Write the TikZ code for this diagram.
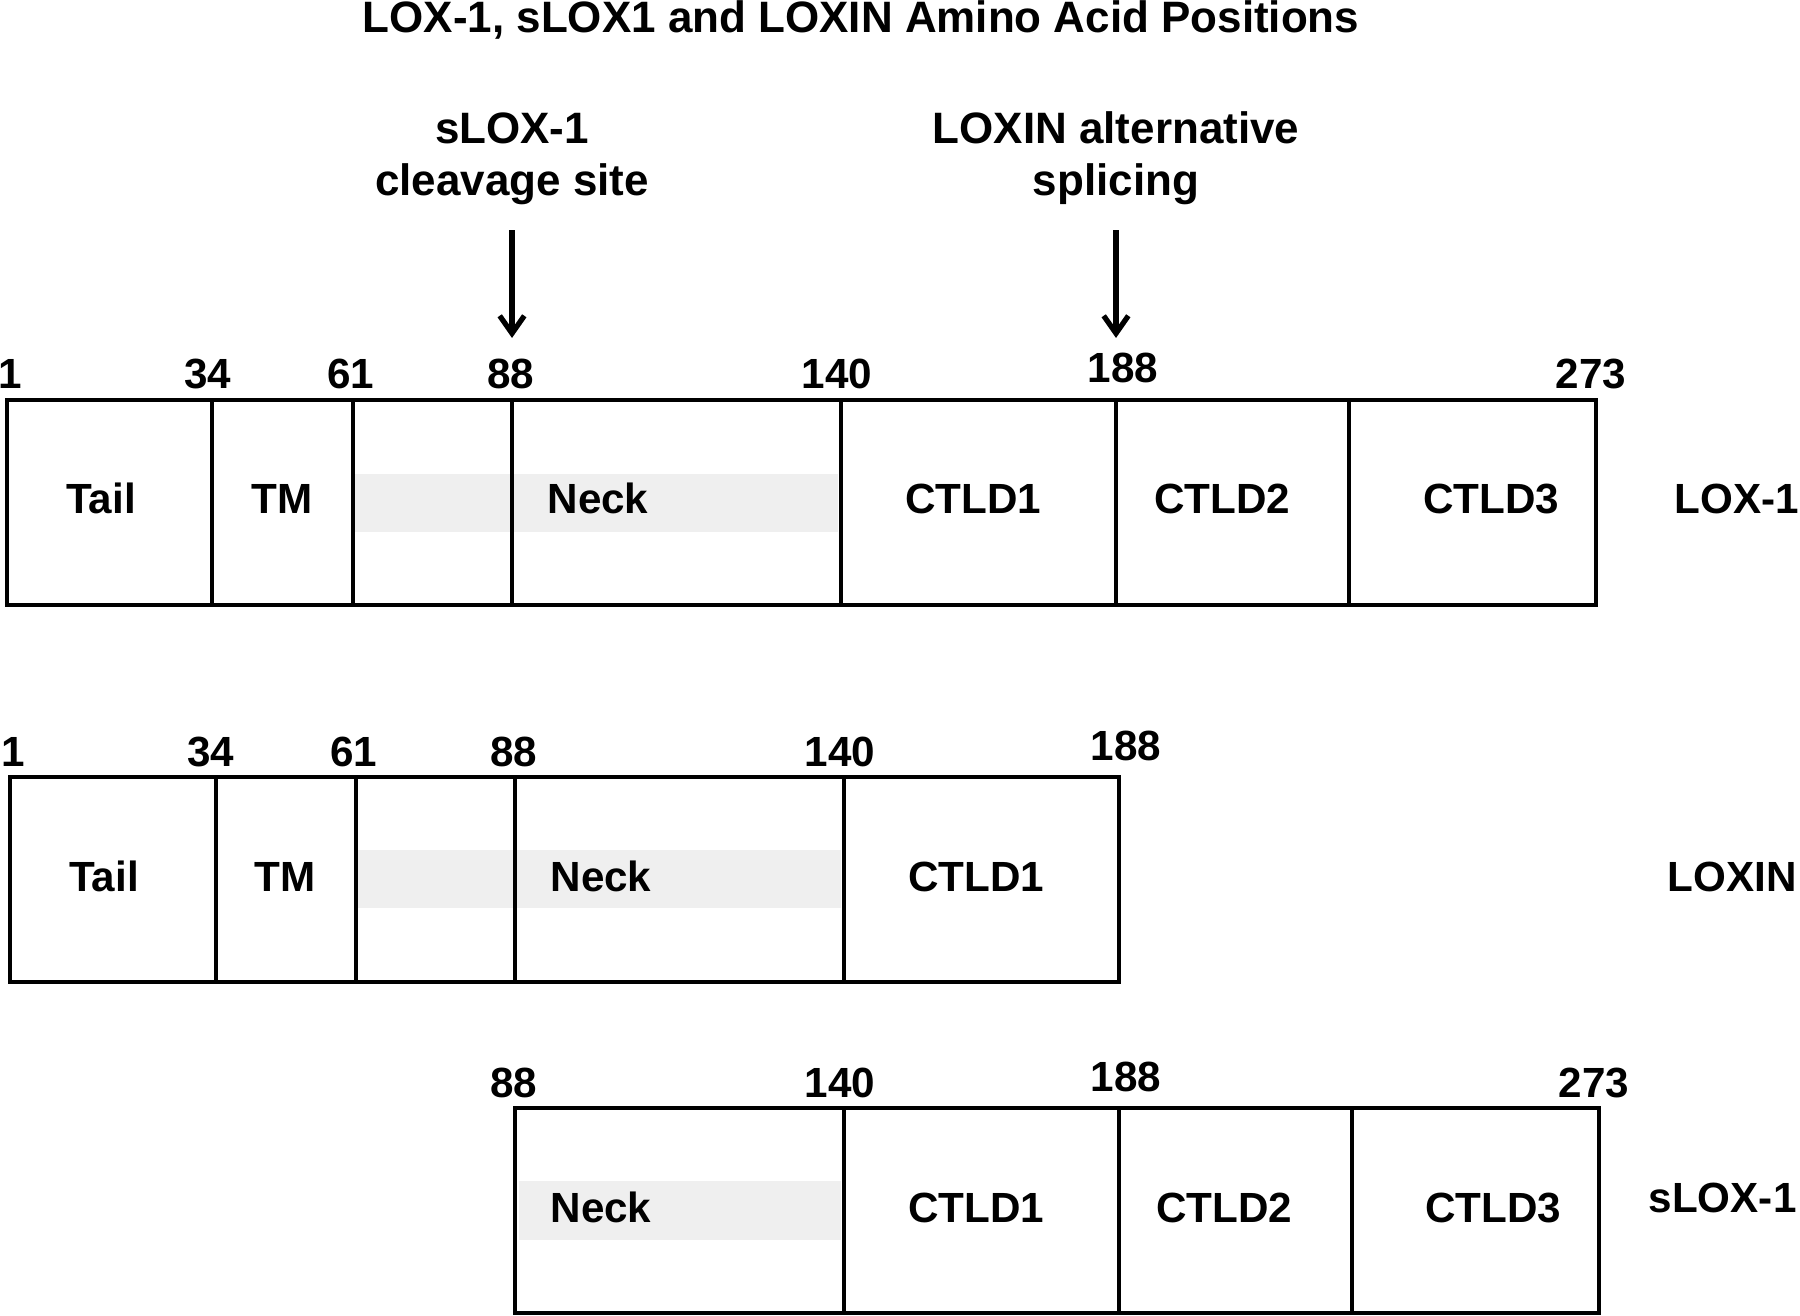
\documentclass[tikz,border=0pt]{standalone}
\usepackage{fontspec}
\setmainfont{Liberation Sans}
\usetikzlibrary{arrows.meta, positioning}
\definecolor{neckgray}{HTML}{EFEFEF}

\begin{document}
\begin{tikzpicture}[
        x=0.01cm, y=-0.01cm,
        seg/.style={draw, line width=0.9pt},
        band/.style={fill=neckgray, draw=none},
        lbl/.style={font=\fontsize{12}{14}\selectfont\bfseries, inner sep=0pt, anchor=base},
        note/.style={font=\fontsize{12.5}{15}\selectfont\bfseries, inner sep=0pt, align=center, anchor=south},
        cut/.style={->, line width=1.5pt, shorten <=0.24cm, shorten >=0.62cm},
        >={Straight Barb[length=5pt, width=7pt]}
      ]
      \useasboundingbox (0,0) rectangle (1800,1316);

      % Title
      \node[lbl, font=\fontsize{12.5}{15}\selectfont\bfseries] (title) at (861,33) {LOX-1, sLOX1 and LOXIN Amino Acid Positions};

      % Annotations
      \node[note] (cleave) at (512,206) {sLOX-1\\cleavage site};
      \node[note] (splice) at (1116,206) {LOXIN alternative\\splicing};

      % LOX-1 (full length)
      \fill[band] (355,474) rectangle (838,532);
      \draw[seg] (7,400) rectangle (1596,605);
      \draw[seg] (212,400) -- (212,605);
      \draw[seg] (353,400) -- (353,605);
      \draw[seg] (512,400) -- (512,605);
      \draw[seg] (841,400) -- (841,605);
      \draw[seg] (1116,400) -- (1116,605);
      \draw[seg] (1349,400) -- (1349,605);
      \coordinate (d88) at (512,400);
      \coordinate (d188) at (1116,400);

      \node[lbl] (a1) at (10,389) {1};
      \node[lbl] (a34) at (208,389) {34};
      \node[lbl] (a61) at (351,389) {61};
      \node[lbl] (a88) at (511,389) {88};
      \node[lbl] (a140) at (837,389) {140};
      \node[lbl] (a188) at (1123,383) {188};
      \node[lbl] (a273) at (1591,389) {273};

      \node[lbl] (atail) at (101,514) {Tail};
      \node[lbl] (atm) at (282,514) {TM};
      \node[lbl] (aneck) at (598,514) {Neck};
      \node[lbl] (actld1) at (973,514) {CTLD1};
      \node[lbl] (actld2) at (1222,514) {CTLD2};
      \node[lbl] (actld3) at (1491,514) {CTLD3};
      \node[lbl, anchor=base west] (lox) at (1674,514) {LOX-1};

      % LOXIN (alternative splicing)
      \fill[band] (358,850) rectangle (841,908);
      \draw[seg] (10,777) rectangle (1119,982);
      \draw[seg] (216,777) -- (216,982);
      \draw[seg] (356,777) -- (356,982);
      \draw[seg] (515,777) -- (515,982);
      \draw[seg] (844,777) -- (844,982);

      \node[lbl] (b1) at (13,766) {1};
      \node[lbl] (b34) at (211,766) {34};
      \node[lbl] (b61) at (354,766) {61};
      \node[lbl] (b88) at (514,766) {88};
      \node[lbl] (b140) at (840,766) {140};
      \node[lbl] (b188) at (1126,760) {188};

      \node[lbl] (btail) at (104,891) {Tail};
      \node[lbl] (btm) at (285,891) {TM};
      \node[lbl] (bneck) at (601,891) {Neck};
      \node[lbl] (bctld1) at (976,891) {CTLD1};
      \node[lbl, anchor=base west] (loxin) at (1667,891) {LOXIN};

      % sLOX-1 (soluble)
      \fill[band] (519,1181) rectangle (841,1240);
      \draw[seg] (515,1108) rectangle (1599,1313);
      \draw[seg] (844,1108) -- (844,1313);
      \draw[seg] (1119,1108) -- (1119,1313);
      \draw[seg] (1352,1108) -- (1352,1313);

      \node[lbl] (c88) at (514,1097) {88};
      \node[lbl] (c140) at (840,1097) {140};
      \node[lbl] (c188) at (1126,1091) {188};
      \node[lbl] (c273) at (1594,1097) {273};

      \node[lbl] (cneck) at (601,1222) {Neck};
      \node[lbl] (cctld1) at (976,1222) {CTLD1};
      \node[lbl] (cctld2) at (1224,1222) {CTLD2};
      \node[lbl] (cctld3) at (1493,1222) {CTLD3};
      \node[lbl, anchor=base west] (slox) at (1648,1212) {sLOX-1};

      % Arrows
      \draw[cut] (cleave.south) -- (d88);
      \draw[cut] (splice.south) -- (d188);

\end{tikzpicture}
\end{document}
